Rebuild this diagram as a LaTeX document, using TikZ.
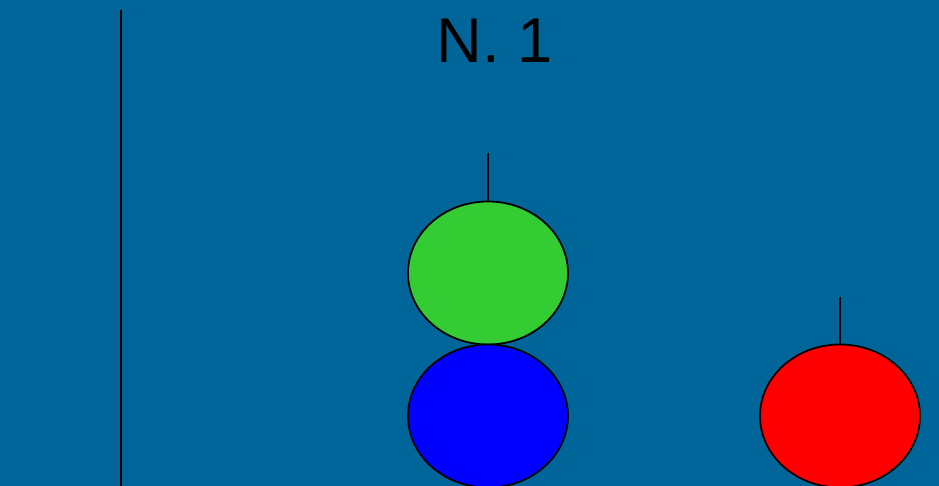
\documentclass[tikz,border=0pt]{standalone}
\usepackage{fontspec}
\setmainfont{Liberation Sans}
\usetikzlibrary{shapes.geometric, positioning}

\definecolor{slidebg}{RGB}{0,102,153}
\definecolor{ballgreen}{RGB}{51,204,51}

\begin{document}
\begin{tikzpicture}[
    x=0.03cm, y=-0.03cm,
    % Node styles
    ball/.style={
        ellipse, minimum width=4.8cm, minimum height=4.29cm,
        draw=black, line width=1.5pt,
        fill=#1,
    },
    ball/.default=red,
    title/.style={
        font=\fontsize{54}{58}\selectfont, text=black,
        inner sep=0pt, anchor=base,
    },
    string/.style={
        draw=black, line width=1.5pt,
    },
]

% === Background ===
\fill[slidebg] (0,0) rectangle (939,486);
\useasboundingbox (0,0) rectangle (939,486);

% === Title ===
\node[title] (num) at (495,63) {N. 1};

% === Left rod ===
\coordinate (rodtop) at (121,10);
\coordinate (rodbot) at (121,486);
\draw[string] (rodtop) -- (rodbot);

% === Balls ===
\node[ball=ballgreen] (green) at (488,273) {};
\node[ball=blue]      (blue)  at (488,416) {};
\node[ball=red]       (red)   at (840,416) {};

% === Strings ===
\coordinate (hookgreen) at (488,153);
\coordinate (hookred)   at (840,297);
\draw[string] (green.north) -- (hookgreen);
\draw[string] (red.north) -- (hookred);

\end{tikzpicture}
\end{document}
